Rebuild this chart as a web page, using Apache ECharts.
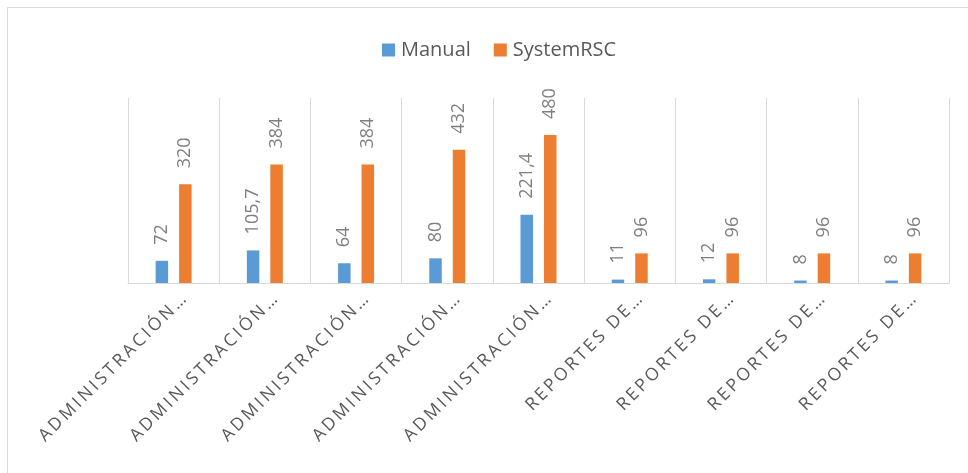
<!DOCTYPE html>
<html>
<head>
<meta charset="utf-8">
<script src="https://cdn.jsdelivr.net/npm/echarts@6/dist/echarts.min.js"></script>
<style>
  html, body { margin: 0; padding: 0; background: #ffffff; overflow: hidden; }
  #chart { width: 968px; height: 473px; }
</style>
</head>
<body>
<div id="chart"></div>
<script>
// Category names (shown truncated, as in the workbook)
const categories = [
  'ADMINISTRACIÓN…', 'ADMINISTRACIÓN…', 'ADMINISTRACIÓN…', 'ADMINISTRACIÓN…', 'ADMINISTRACIÓN…',
  'REPORTES DE…', 'REPORTES DE…', 'REPORTES DE…', 'REPORTES DE…'
];
const seriesNames = ['Manual', 'SystemRSC'];
const manualValues = [72, 105.7, 64, 80, 221.4, 11, 12, 8, 8];
const systemValues = [320, 384, 384, 432, 480, 96, 96, 96, 96];

const FONT = '"Open Sans", "Noto Sans", sans-serif';

// Spread letters apart to mimic the spaced-out category caption style
function spaced(s) {
  return Array.from(s).join('\u2009');
}
function decimalComma(v) {
  return String(v).replace('.', ',');
}

const valueLabel = {
  show: true,
  position: 'top',
  rotate: 90,
  align: 'left',
  verticalAlign: 'middle',
  distance: 16,
  color: '#7f7f7f',
  fontFamily: FONT,
  fontSize: 18,
  formatter: p => decimalComma(p.value)
};

const chart = echarts.init(document.getElementById('chart'), null, { renderer: 'canvas' });
chart.setOption({
  animation: false,
  backgroundColor: '#ffffff',
  graphic: [{
    type: 'rect',
    shape: { x: 7.5, y: 7.5, width: 1000, height: 1000 },
    style: { fill: 'none', stroke: '#d9d9d9', lineWidth: 1 },
    silent: true
  }],
  legend: {
    data: seriesNames,
    left: 377,
    top: 35,
    icon: 'rect',
    itemWidth: 13,
    itemHeight: 13,
    itemGap: 23,
    textStyle: { color: '#595959', fontFamily: FONT, fontSize: 20, padding: [0, 0, 0, 1] }
  },
  grid: {
    left: 128,
    right: 19,
    top: 98,
    bottom: 190,
    containLabel: false,
    outerBoundsMode: 'none'
  },
  xAxis: {
    type: 'category',
    data: categories,
    boundaryGap: true,
    axisLine: { show: true, lineStyle: { color: '#d9d9d9', width: 1 } },
    axisTick: { show: false },
    splitLine: { show: true, interval: 0, lineStyle: { color: '#d9d9d9', width: 1 } },
    axisLabel: {
      interval: 0,
      rotate: 45,
      margin: 4,
      verticalAlign: 'top',
      lineHeight: 28,
      color: '#595959',
      fontFamily: FONT,
      fontSize: 17.5,
      formatter: v => spaced(v)
    }
  },
  yAxis: {
    type: 'value',
    min: 0,
    max: 600,
    show: false,
    splitLine: { show: false }
  },
  series: [
    {
      name: seriesNames[0],
      type: 'bar',
      data: manualValues,
      barWidth: 12.5,
      barGap: '88%',
      itemStyle: { color: '#5b9bd5' },
      label: valueLabel
    },
    {
      name: seriesNames[1],
      type: 'bar',
      data: systemValues,
      barWidth: 12.5,
      itemStyle: { color: '#ed7d31' },
      label: valueLabel
    }
  ]
});
</script>
</body>
</html>
